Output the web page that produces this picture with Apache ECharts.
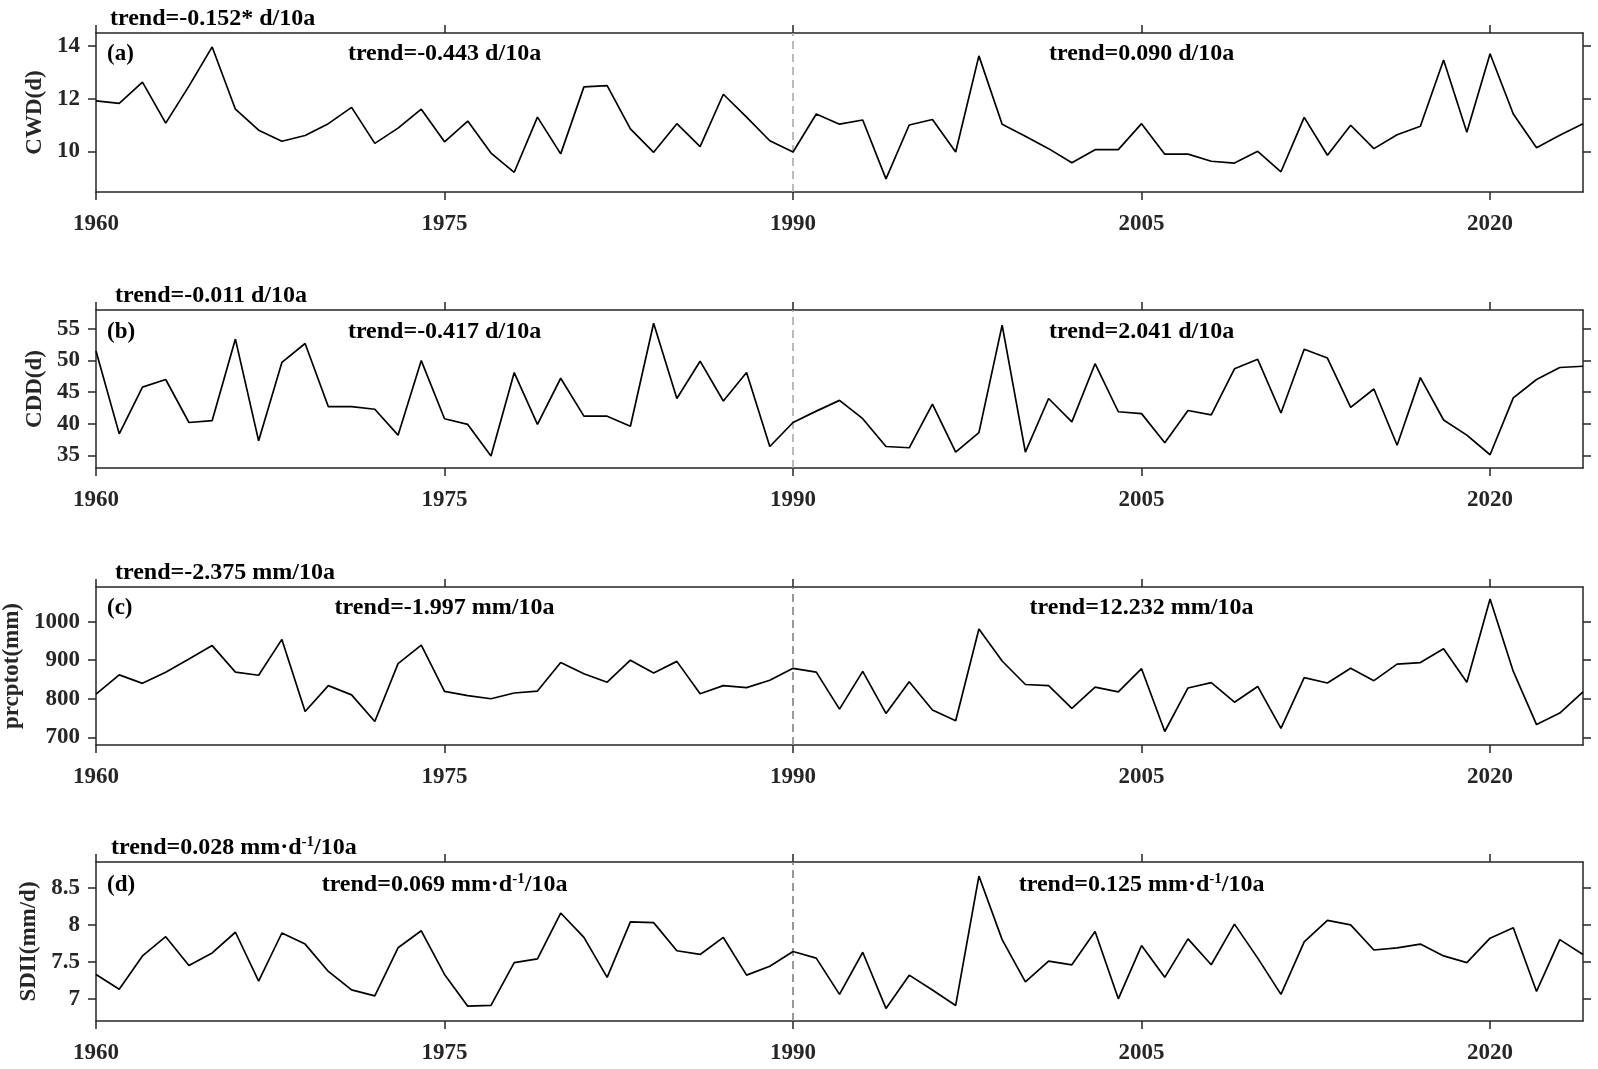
<!DOCTYPE html>
<html><head><meta charset="utf-8">
<script src="https://cdn.jsdelivr.net/npm/echarts@6/dist/echarts.min.js"></script>
<style>html,body{margin:0;padding:0;background:#fff}#c{width:1598px;height:1069px}</style>
</head><body><div id="c"></div>
<script>
// ---------- data ----------
const years = [1960,1961,1962,1963,1964,1965,1966,1967,1968,1969,
  1970,1971,1972,1973,1974,1975,1976,1977,1978,1979,
  1980,1981,1982,1983,1984,1985,1986,1987,1988,1989,
  1990,1991,1992,1993,1994,1995,1996,1997,1998,1999,
  2000,2001,2002,2003,2004,2005,2006,2007,2008,2009,
  2010,2011,2012,2013,2014,2015,2016,2017,2018,2019,
  2020,2021,2022,2023,2024];
const cwd = [11.92,11.82,12.63,11.07,12.48,13.97,11.6,10.8,10.38,10.6,
  11.05,11.67,10.3,10.88,11.6,10.36,11.15,9.93,9.2,11.3,
  9.9,12.45,12.5,10.85,9.96,11.05,10.18,12.17,11.3,10.4,
  9.97,11.42,11.03,11.19,8.95,11.0,11.21,9.97,13.63,11.03,
  10.57,10.1,9.56,10.06,10.06,11.05,9.89,9.89,9.62,9.55,
  10.0,9.22,11.29,9.85,10.99,10.1,10.63,10.95,13.47,10.72,
  13.71,11.42,10.13,10.61,11.05];
const cdd = [51.5,38.4,45.8,47.0,40.2,40.5,53.4,37.3,49.7,52.7,
  42.7,42.7,42.3,38.2,50.0,40.8,39.9,34.9,48.1,39.9,
  47.2,41.2,41.2,39.6,55.9,44.0,49.9,43.6,48.1,36.4,
  40.2,42.0,43.7,40.8,36.4,36.2,43.1,35.5,38.6,55.6,
  35.5,44.0,40.3,49.5,41.9,41.6,37.0,42.1,41.4,48.7,
  50.2,41.7,51.8,50.4,42.6,45.5,36.6,47.3,40.6,38.2,
  35.1,44.1,47.0,48.9,49.1];
const prcptot = [812,862,840,869,903,938,869,861,954,767,
  834,810,741,891,939,819,808,800,815,820,
  894,865,843,900,867,897,813,834,829,848,
  879,869,773,871,762,844,771,743,981,898,
  837,834,775,830,818,878,715,828,842,791,
  832,723,855,841,879,847,890,894,930,843,
  1059,871,733,763,818];
const sdii = [7.33,7.13,7.58,7.84,7.45,7.62,7.9,7.24,7.89,7.74,
  7.37,7.12,7.04,7.69,7.92,7.33,6.9,6.91,7.49,7.54,
  8.16,7.83,7.29,8.04,8.03,7.65,7.6,7.83,7.32,7.44,
  7.64,7.55,7.06,7.63,6.87,7.32,7.12,6.91,8.66,7.8,
  7.23,7.51,7.46,7.91,7.0,7.72,7.29,7.81,7.46,8.01,
  7.55,7.06,7.77,8.06,8.0,7.66,7.69,7.74,7.58,7.49,
  7.82,7.96,7.1,7.8,7.6];

const xTicks = [1960,1975,1990,2005,2020];
const yTicksCWD = [10,12,14];
const yTicksCDD = [35,40,45,50,55];
const yTicksPRCP = [700,800,900,1000];
const yTicksSDII = [7,7.5,8,8.5];

const panelLabels = ['(a)','(b)','(c)','(d)'];
const yNames = ['CWD(d)','CDD(d)','prcptot(mm)','SDII(mm/d)'];
const breakYear = 1990;
// trend texts: [main, superscript, tail]
const trendAll = [['trend=-0.152* d/10a','',''],['trend=-0.011 d/10a','',''],['trend=-2.375 mm/10a','',''],['trend=0.028 mm·d','-1','/10a']];
const trendEarly = [['trend=-0.443 d/10a','',''],['trend=-0.417 d/10a','',''],['trend=-1.997 mm/10a','',''],['trend=0.069 mm·d','-1','/10a']];
const trendLate = [['trend=0.090 d/10a','',''],['trend=2.041 d/10a','',''],['trend=12.232 mm/10a','',''],['trend=0.125 mm·d','-1','/10a']];
const trendEarlyYear = 1975, trendLateYear = 2005;

// ---------- layout / style ----------
const seriesVals = [cwd, cdd, prcptot, sdii];
const yTicks = [yTicksCWD, yTicksCDD, yTicksPRCP, yTicksSDII];
const yMin = [8.45, 33, 680, 6.7];
const yMax = [14.5, 58, 1090, 8.85];
const gridTop = [33, 310, 587, 862];
const gridH = [159, 158, 158, 159];
const nameGaps = [45, 45, 67, 51];
const outerX = [110, 115, 115, 111];
const innerDy = [21, 22, 21, 23];
const dashColor = ['#ababab', '#ababab', '#808080', '#808080'];
const FONT = '"Liberation Serif","Times New Roman",serif';
const AX = '#262626';

const chart = echarts.init(document.getElementById('c'), null, {renderer: 'canvas'});
const grid = [], xAxis = [], yAxis = [], series = [];
const fmt = v => String(v);
for (let i = 0; i < 4; i++) {
  grid.push({left: 96, right: 15, top: gridTop[i], height: gridH[i],
    containLabel: false, outerBoundsMode: 'none'});
  const axLine = {show: true, onZero: false, lineStyle: {color: AX, width: 1.5}};
  const tickBase = {show: true, inside: false, length: 8, lineStyle: {color: AX, width: 1.5}};
  xAxis.push({type: 'value', gridIndex: i, position: 'bottom', min: 1960, max: 2024,
    axisLine: axLine, splitLine: {show: false},
    axisTick: Object.assign({}, tickBase, {customValues: xTicks}),
    axisLabel: {customValues: xTicks, formatter: fmt, margin: 21, color: AX,
      fontFamily: FONT, fontWeight: 'bold', fontSize: 23}});
  xAxis.push({type: 'value', gridIndex: i, position: 'top', min: 1960, max: 2024,
    axisLine: axLine, splitLine: {show: false},
    axisTick: Object.assign({}, tickBase, {customValues: xTicks}),
    axisLabel: {show: false}});
  yAxis.push({type: 'value', gridIndex: i, position: 'left', min: yMin[i], max: yMax[i],
    name: yNames[i], nameLocation: 'middle', nameGap: nameGaps[i], nameRotate: 90,
    nameTextStyle: {fontFamily: FONT, fontWeight: 'bold', fontSize: 23, color: AX},
    axisLine: axLine, splitLine: {show: false},
    axisTick: Object.assign({}, tickBase, {customValues: yTicks[i]}),
    axisLabel: {customValues: yTicks[i], formatter: fmt, margin: 16, color: AX,
      fontFamily: FONT, fontWeight: 'bold', fontSize: 23}});
  yAxis.push({type: 'value', gridIndex: i, position: 'right', min: yMin[i], max: yMax[i],
    axisLine: axLine, splitLine: {show: false},
    axisTick: Object.assign({}, tickBase, {customValues: yTicks[i]}),
    axisLabel: {show: false}});
  series.push({type: 'line', xAxisIndex: 2 * i, yAxisIndex: 2 * i,
    data: years.map((y, k) => [y, seriesVals[i][k]]),
    showSymbol: false, symbol: 'none', lineStyle: {color: '#000', width: 1.7}, z: 3,
    markLine: {silent: true, symbol: ['none', 'none'], label: {show: false},
      lineStyle: {type: [8, 5], color: dashColor[i], width: 1.6},
      data: [{xAxis: breakYear}], z: 2}});
}
chart.setOption({animation: false, backgroundColor: '#fff', grid, xAxis, yAxis, series});

const rich = {
  m: {fontFamily: FONT, fontWeight: 'bold', fontSize: 24, lineHeight: 26, fill: '#000', color: '#000'},
  s: {fontFamily: FONT, fontWeight: 'bold', fontSize: 15, lineHeight: 15, verticalAlign: 'top', fill: '#000', color: '#000'}
};
const richText = p => '{m|' + p[0] + '}' + (p[1] ? '{s|' + p[1] + '}' : '') + (p[2] ? '{m|' + p[2] + '}' : '');
const graphics = [];
for (let i = 0; i < 4; i++) {
  const xe = chart.convertToPixel({xAxisIndex: 2 * i}, trendEarlyYear);
  const xl = chart.convertToPixel({xAxisIndex: 2 * i}, trendLateYear);
  const yOut = gridTop[i] - 14;
  const yIn = gridTop[i] + innerDy[i];
  graphics.push({type: 'text', x: outerX[i], y: yOut, z: 10,
    style: {text: richText(trendAll[i]), rich, align: 'left', verticalAlign: 'middle'}});
  graphics.push({type: 'text', x: xe, y: yIn, z: 10,
    style: {text: richText(trendEarly[i]), rich, align: 'center', verticalAlign: 'middle'}});
  graphics.push({type: 'text', x: xl, y: yIn, z: 10,
    style: {text: richText(trendLate[i]), rich, align: 'center', verticalAlign: 'middle'}});
  graphics.push({type: 'text', x: 107, y: yIn, z: 10,
    style: {text: panelLabels[i], fontFamily: FONT, fontWeight: 'bold', fontSize: 23, fill: '#000',
      align: 'left', verticalAlign: 'middle'}});
}
chart.setOption({graphic: graphics});
</script></body></html>
